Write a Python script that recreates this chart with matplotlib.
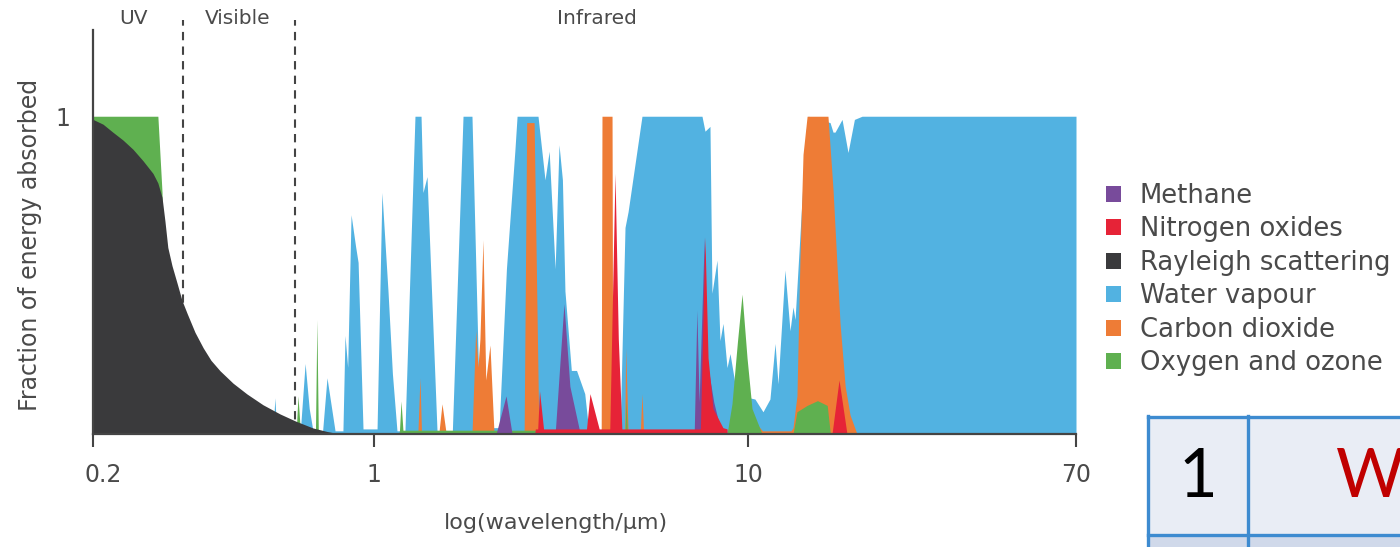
import numpy as np
import matplotlib
matplotlib.use("Agg")
import matplotlib.pyplot as plt
import matplotlib.transforms as mtransforms
from matplotlib.patches import Rectangle
from matplotlib.lines import Line2D

# ---------------- data (wavelength in micrometres, fraction absorbed) ----------------
tick_values = [0.2, 1, 10, 70]
tick_labels = ["0.2", "1", "10", "70"]
region_bounds = [0.335, 0.636]          # UV | Visible | Infrared (dashed lines)
region_names = ["UV", "Visible", "Infrared"]

rayleigh_wl = [0.2, 0.2118, 0.224, 0.2375, 0.2515, 0.2663, 0.282, 0.290, 0.297, 0.302,
               0.307, 0.3144, 0.324, 0.333, 0.343, 0.3587, 0.376, 0.393, 0.414, 0.446,
               0.483, 0.5295, 0.584, 0.640, 0.705, 0.764, 0.823]
rayleigh_val = [0.99, 0.975, 0.95, 0.925, 0.896, 0.86, 0.82, 0.79, 0.745, 0.67,
                0.587, 0.53, 0.473, 0.42, 0.379, 0.32, 0.271, 0.232, 0.199, 0.16,
                0.126, 0.092, 0.063, 0.04, 0.019, 0.008, 0.0]

oxygen_wl = [0.2, 0.290, 0.297, 0.300, 0.640, 0.647, 0.655, 0.665, 0.715, 0.721, 0.727,
             1.165, 1.17, 1.181, 1.195, 2.75, 2.76, 4.69, 4.72, 4.76,
             8.79, 9.06, 9.37, 9.64, 9.94, 10.24, 10.87,
             13.06, 13.37, 14.2, 15.1, 16.0, 16.3]
oxygen_val = [1.0, 1.0, 0.76, 0.0, 0.0, 0.12, 0.02, 0.0, 0.0, 0.36, 0.0,
              0.0, 0.012, 0.104, 0.012, 0.012, 0.0, 0.0, 0.11, 0.0,
              0.0, 0.095, 0.29, 0.44, 0.24, 0.08, 0.0,
              0.0, 0.07, 0.09, 0.105, 0.09, 0.0]

co2_wl = [1.31, 1.327, 1.34, 1.49, 1.52, 1.56,
          1.828, 1.87, 1.897, 1.92, 1.956, 1.99, 2.042, 2.094,
          2.52, 2.56, 2.68, 2.76,
          4.05, 4.07, 4.33, 4.35,
          4.68, 4.71, 4.78, 5.15, 5.206, 5.26,
          10.3, 10.55, 10.9, 12.9, 13.06, 13.37, 13.61, 13.86, 14.2, 16.07, 16.56,
          17.26, 17.8, 18.32, 19.09]
co2_val = [0.0, 0.177, 0.0, 0.0, 0.095, 0.0,
           0.0, 0.325, 0.21, 0.3, 0.611, 0.17, 0.28, 0.0,
           0.0, 0.98, 0.98, 0.0,
           0.0, 1.0, 1.0, 0.0,
           0.0, 0.27, 0.0, 0.0, 0.127, 0.0,
           0.0, 0.03, 0.01, 0.01, 0.02, 0.12, 0.55, 0.88, 1.0, 1.0, 0.77,
           0.35, 0.15, 0.06, 0.0]

nox_wl = [2.69, 2.70, 2.74, 2.77, 2.84, 3.70, 3.78, 4.0, 4.27, 4.41, 4.50, 4.60,
          7.46, 7.67, 7.82, 8.06, 8.57, 8.79, 8.80, 16.46, 17.16, 17.99]
nox_val = [0.0, 0.016, 0.016, 0.136, 0.016, 0.016, 0.127, 0.016, 0.016, 0.82, 0.30, 0.016,
           0.016, 0.62, 0.24, 0.08, 0.02, 0.016, 0.0, 0.0, 0.17, 0.0]

methane_wl = [2.12, 2.254, 2.34, 3.05, 3.22, 3.34, 3.56,
              7.18, 7.30, 7.40, 7.64, 7.72, 8.1, 8.5]
methane_val = [0.0, 0.12, 0.0, 0.0, 0.41, 0.15, 0.0,
               0.0, 0.39, 0.10, 0.62, 0.25, 0.10, 0.0]

water_wl = [0.560, 0.567, 0.573,
            0.655, 0.674, 0.69, 0.705, 0.745, 0.764, 0.80, 0.837, 0.847, 0.860, 0.877,
            0.90, 0.913, 0.939, 1.019, 1.05, 1.09, 1.12, 1.152, 1.21, 1.287, 1.336,
            1.352, 1.386, 1.474, 1.62, 1.73, 1.828, 1.92, 2.16, 2.26, 2.38,
            2.413, 2.745, 2.866, 2.94, 3.05, 3.124, 3.19, 3.24, 3.37, 3.48, 3.66,
            3.72, 3.78, 4.55, 4.69, 4.78, 5.206, 7.534, 7.674, 7.913, 8.011, 8.262,
            8.416, 8.574, 8.788, 8.952, 9.232, 9.6, 10.42, 10.93, 11.39, 11.74, 11.95,
            12.45, 12.83, 13.06, 13.22, 14.1, 14.3, 16.27, 16.56, 16.76, 17.47, 18.10,
            18.8, 19.67, 70.0]
water_val = [0.0, 0.114, 0.0,
             0.0, 0.222, 0.08, 0.01, 0.01, 0.177, 0.01, 0.01, 0.31, 0.21, 0.69,
             0.59, 0.54, 0.016, 0.016, 0.76, 0.45, 0.19, 0.01, 0.01, 1.0, 1.0,
             0.76, 0.81, 0.01, 0.01, 1.0, 1.0, 0.02, 0.02, 0.52, 0.89,
             1.0, 1.0, 0.80, 0.89, 0.52, 0.91, 0.80, 0.45, 0.20, 0.20, 0.127,
             0.05, 0.01, 0.01, 0.65, 0.70, 1.0, 1.0, 0.953, 0.968, 0.443, 0.547,
             0.294, 0.348, 0.209, 0.253, 0.158, 0.12, 0.11, 0.07, 0.11, 0.285, 0.158,
             0.516, 0.325, 0.40, 0.36, 0.95, 1.0, 0.98, 0.95, 0.95, 0.99, 0.886,
             0.99, 1.0, 1.0]

# ---------------- style ----------------
C_METHANE = "#784B9B"
C_NOX = "#E62337"
C_RAYLEIGH = "#3A3A3C"
C_WATER = "#52B2E1"
C_CO2 = "#EE7C36"
C_OXYGEN = "#5FB050"
AX_COL = "#444444"
TXT_COL = "#4a4a4a"

plt.rcParams["font.family"] = ["DejaVu Sans"]

W, H = 1400, 547
fig = plt.figure(figsize=(W / 100, H / 100), dpi=100)
fig.patch.set_facecolor("white")

# axes placed in pixel terms
left, right, bottom, top = 93, 1076, 434, 20
ax = fig.add_axes([left / W, 1 - bottom / H, (right - left) / W, (bottom - top) / H])

# piecewise-logarithmic axis matching the hand-drawn tick spacing
KL = np.array([-6.0, np.log10(0.2), 0.0, 1.0, np.log10(70), 6.0])
KP = np.array([-(np.log10(0.2) + 6.0) * 402.0, 0.0, 281.0, 655.0, 983.0,
               983.0 + (6.0 - np.log10(70)) * 388.0])


def fwd(x):
    x = np.asarray(x, dtype=float)
    lx = np.log10(np.clip(x, 1e-6, None))
    return np.interp(lx, KL, KP)


def inv(p):
    p = np.asarray(p, dtype=float)
    return 10 ** np.interp(p, KP, KL)


ax.set_xscale("function", functions=(fwd, inv))
ax.set_xlim(0.2, 70)
ylim_top = (433 - top) / 317.0
ax.set_ylim(0, ylim_top)

series = [
    ("Water vapour", water_wl, water_val, C_WATER, 1),
    ("Carbon dioxide", co2_wl, co2_val, C_CO2, 2),
    ("Oxygen and ozone", oxygen_wl, oxygen_val, C_OXYGEN, 3),
    ("Rayleigh scattering", rayleigh_wl, rayleigh_val, C_RAYLEIGH, 4),
    ("Methane", methane_wl, methane_val, C_METHANE, 5),
    ("Nitrogen oxides", nox_wl, nox_val, C_NOX, 6),
]
handles = {}
for name, xs, ys, col, z in series:
    h = ax.fill_between(xs, 0, ys, color=col, linewidth=0, zorder=z, label=name)
    handles[name] = h

for b in region_bounds:
    ax.axvline(b, color=AX_COL, linestyle=(0, (4, 3)), linewidth=1.5, zorder=0.5)

# spines
for s in ("top", "right"):
    ax.spines[s].set_visible(False)
for s in ("left", "bottom"):
    ax.spines[s].set_color(AX_COL)
    ax.spines[s].set_linewidth(1.6)
ax.spines["left"].set_bounds(0, (433 - 30) / 317.0)
ax.spines["left"].set_zorder(7)
ax.spines["bottom"].set_zorder(7)

ax.set_xticks(tick_values)
ax.set_xticklabels(tick_labels)
ax.minorticks_off()
ax.tick_params(axis="x", direction="out", length=9, width=1.5, color=AX_COL,
               pad=12, labelsize=17, labelcolor=TXT_COL)
# the first label sits a little to the right of its tick in the reference
shift = mtransforms.ScaledTranslation(10 / 100, 0, fig.dpi_scale_trans)
lbl0 = ax.get_xticklabels()[0]
lbl0.set_transform(lbl0.get_transform() + shift)

ax.set_yticks([1])
ax.set_yticklabels(["1"])
ax.tick_params(axis="y", length=0, pad=16, labelsize=17, labelcolor=TXT_COL)

ax.set_xlabel("log(wavelength/µm)", fontsize=16, color=TXT_COL)
ax.xaxis.set_label_coords((556 - left) / (right - left), (bottom - 523) / (bottom - top))
ax.xaxis.label.set_va("center")
ax.set_ylabel("Fraction of energy absorbed", fontsize=17, color=TXT_COL)
ax.yaxis.set_label_coords((30 - left) / (right - left), (bottom - 245) / (bottom - top))
ax.yaxis.label.set_va("center")

# region labels above the plot
ytxt = (bottom - 18) / (bottom - top)
for xpos, name in zip([0.2515, 0.459, 3.95], region_names):
    ax.text(xpos, ytxt, name, transform=ax.get_xaxis_transform(),
            ha="center", va="center", fontsize=14.5, color=TXT_COL)

# legend
order = ["Methane", "Nitrogen oxides", "Rayleigh scattering", "Water vapour",
         "Carbon dioxide", "Oxygen and ozone"]
leg = fig.legend([handles[n] for n in order], order, loc="upper left",
                 bbox_to_anchor=(1106 / W, 1 - 183 / H), frameon=False,
                 fontsize=18.6, handlelength=0.58, handleheight=0.58,
                 handletextpad=0.72, labelspacing=0.29, borderpad=0,
                 borderaxespad=0)
for t in leg.get_texts():
    t.set_color(TXT_COL)


# table fragment in the lower right corner
def fx(x):
    return x / W


def fy(y):
    return 1 - y / H


tbl_fill1 = "#E9EDF5"
tbl_fill2 = "#D0D9EA"
tbl_line = "#3D8BD0"
fig.patches.append(Rectangle((fx(1148), fy(535)), fx(1400) - fx(1148), fy(417) - fy(535),
                             transform=fig.transFigure, facecolor=tbl_fill1, edgecolor="none"))
fig.patches.append(Rectangle((fx(1148), fy(547)), fx(1400) - fx(1148), fy(535) - fy(547),
                             transform=fig.transFigure, facecolor=tbl_fill2, edgecolor="none"))
for (x0, y0, x1, y1) in [(1148, 417, 1400, 417), (1148, 535, 1400, 535),
                         (1148, 416, 1148, 547), (1248, 416, 1248, 547)]:
    fig.add_artist(Line2D([fx(x0), fx(x1)], [fy(y0), fy(y1)], transform=fig.transFigure,
                          color=tbl_line, linewidth=2.4))
fig.text(fx(1198), fy(478), "1", ha="center", va="center", fontsize=48,
         family=["Lato", "DejaVu Sans"], color="black")
fig.text(fx(1336), fy(478), "W", ha="left", va="center", fontsize=48,
         family=["Lato", "DejaVu Sans"], color="#C00000")

fig.savefig("out.png", dpi=100)
